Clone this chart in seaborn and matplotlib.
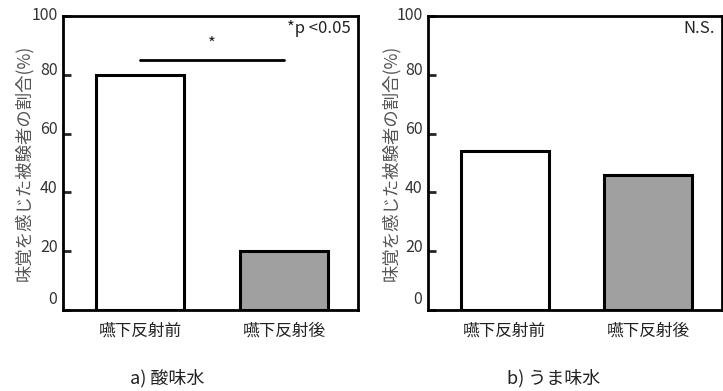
import matplotlib
matplotlib.use('Agg')
import matplotlib.pyplot as plt
import matplotlib.transforms as mtransforms
import seaborn as sns
import pandas as pd

sns.set_style('white')
plt.rcParams['font.family'] = ['Noto Sans CJK JP', 'DejaVu Sans']

# data
categories = ['嚥下反射前', '嚥下反射後']
sour_values = [80, 20]
umami_values = [54, 46]
panel_titles = ['a) 酸味水', 'b) うま味水']
panel_notes = ['*p <0.05', 'N.S.']
bar_colors = ['#ffffff', '#a0a0a0']
ylabel = '味覚を感じた被験者の割合(%)'

fig = plt.figure(figsize=(7.23, 3.91), dpi=100)
W, H = 723, 391
# axes boxes in pixels: left, top, right, bottom
boxes = [(63, 16, 358, 310), (428, 16, 722, 310)]
title_x = [167, 554]
ylabel_x = [33, 400]
# upward shift (px) of each y tick label, as in the reference
label_shift = [12, 6, 6, 6, 6, 2]

for i, vals in enumerate([sour_values, umami_values]):
    l, t, r, b = boxes[i]
    ax = fig.add_axes([l / W, 1 - b / H, (r - l) / W, (b - t) / H])
    df = pd.DataFrame({'cat': categories, 'val': vals})
    sns.barplot(data=df, x='cat', y='val', hue='cat', palette=bar_colors,
                legend=False, width=0.61, edgecolor='black', linewidth=2.2,
                saturation=1, ax=ax)
    ax.set_xlim(-0.535, 1.514)
    ax.set_ylim(0, 100)
    ax.set_yticks([0, 20, 40, 60, 80, 100])
    ax.set_yticklabels(['0', '20', '40', '60', '80', '100'])
    for s in ax.spines.values():
        s.set_visible(True)
        s.set_color('black')
        s.set_linewidth(2.0)
    ax.tick_params(axis='y', direction='in', length=6, width=2, pad=4,
                   labelsize=11.5, labelcolor='#333333', left=True)
    ax.tick_params(axis='x', length=0, pad=9, labelsize=12, labelcolor='#222222')
    ax.set_xlabel('')
    ax.set_ylabel(ylabel, fontsize=12.5, color='#555555')
    ax.yaxis.set_label_coords((ylabel_x[i] - l) / (r - l), 0.5)
    for lab, dy in zip(ax.get_yticklabels(), label_shift):
        lab.set_transform(lab.get_transform() +
                          mtransforms.ScaledTranslation(0, dy / 100, fig.dpi_scale_trans))
    ax.text(0.975, 0.985, panel_notes[i], transform=ax.transAxes, ha='right', va='top',
            fontsize=12, color='#222222')
    fig.text(title_x[i] / W, 1 - 378 / H, panel_titles[i], ha='center', va='center',
             fontsize=13, color='#222222')
    if i == 0:
        ax.plot([0, 1], [85, 85], color='black', linewidth=2)
        ax.text(0.5, 87.5, '*', ha='center', va='bottom', fontsize=12, color='#222222')

fig.savefig('out.png', dpi=100)
